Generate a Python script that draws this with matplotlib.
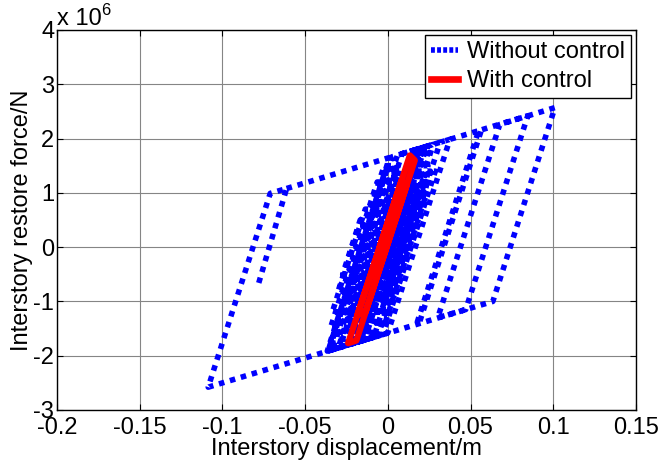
import matplotlib.pyplot as plt
from matplotlib.lines import Line2D

plt.rcParams['font.family'] = ['Liberation Sans', 'DejaVu Sans']

# ---- hysteresis path without control: displacement (m), force (x 1e6 N) ----
disp_without = [-0.0612, 0.001, -0.0366, -0.0350, 0.0025, 0.0235, -0.0118, -0.0348,
                -0.0064, 0.0106, -0.0188, -0.0088, 0.0217, 0.0057, -0.0259, -0.0299,
                0.0058, 0.0191, -0.0126, -0.0336, -0.0136, 0.0024, -0.0240, -0.0356,
                -0.0008, 0.0257, -0.0062, -0.0162, 0.0213, 0.0258, -0.0035, -0.0275,
                -0.0022, 0.0058, -0.0247, -0.0017, 0.0235, 0.0195, -0.0085, -0.0228,
                0.0147, 0.0224, -0.0023, -0.0273, -0.0167, -0.0087, -0.0245, -0.0005,
                0.0247, 0.0287, -0.0029, -0.0206, 0.0169,
                0.0202, -0.0127, -0.0197, 0.0056, 0.0136, -0.0162, -0.0334, -0.0019,
                0.0051, -0.0160, -0.0220, 0.0017, 0.0097, -0.0187, -0.0107, 0.0230,
                0.0274, -0.0030, 0.0010, 0.0231, 0.0171, -0.0123, -0.0289, 0.0086,
                0.0186, -0.0079, -0.0159, -0.0001, -0.0071, -0.0239, -0.0299, -0.0173,
                -0.0063, -0.0300, -0.0361, -0.0007, 0.0078, -0.0238, -0.0158, 0.0163,
                0.0243, -0.0041, -0.0141, 0.0175,
                0.0375, 0.0000, -0.0060, 0.0316, 0.0566, 0.0190, 0.0175, 0.0549,
                0.0846, 0.0471, 0.0302, 0.0677, 0.1010, 0.0635, -0.1086, -0.0711,
                -0.0612, -0.0790]
force_without = [1.08, 1.65, -1.916, -1.90, 1.663, 1.857, -1.50, -1.50,
                 1.20, 1.20, -1.60, -1.60, 1.30, 1.30, -1.70, -1.70,
                 1.694, 1.816, -1.20, -1.20, 0.70, 0.70, -1.80, -1.907,
                 1.40, 1.40, -1.637, -1.729, 1.836, 1.877, -0.90, -0.90,
                 1.50, 1.50, -1.40, -1.40, 1.00, 1.00, -1.658, -1.790,
                 1.775, 1.846, -0.50, -0.50, 0.50, 0.50, -1.00, -1.00,
                 1.40, 1.40, -1.607, -1.770, 1.795,
                 1.826, -1.30, -1.30, 1.10, 1.10, -1.729, -1.887, 1.10,
                 1.10, -0.90, -0.90, 1.35, 1.35, -1.35, -1.35, 1.852,
                 1.892, -1.00, -1.00, 1.10, 1.10, -1.693, -1.846, 1.719,
                 1.811, -0.70, -0.70, 0.80, 0.80, -0.80, -0.80, 0.40,
                 0.40, -1.856, -1.912, 1.45, 1.45, -1.55, -1.55, 1.50,
                 1.50, -1.20, -1.20, 1.801,
                 1.985, -1.58, -1.64, 1.931, 2.16, -1.40, -1.41, 2.145,
                 2.42, -1.15, -1.30, 2.26, 2.57, -1.00, -2.58, 0.99,
                 1.08, -0.76]

# ---- hysteresis path with control ----
disp_with = [-0.0049, 0.0133, 0.0163, -0.019, -0.024, 0.0082, 0.0113, -0.0135,
             -0.0184, 0.0005]
force_with = [0.00, 1.69, 1.60, -1.72, -1.77, 1.22, 1.13, -1.20, -1.25, 0.50]

x_ticks = [-0.2, -0.15, -0.1, -0.05, 0, 0.05, 0.1, 0.15]
x_tick_labels = ['-0.2', '-0.15', '-0.1', '-0.05', '0', '0.05', '0.1', '0.15']
y_ticks = [-3, -2, -1, 0, 1, 2, 3, 4]
y_tick_labels = ['-3', '-2', '-1', '0', '1', '2', '3', '4']

fs = 17
blue_dots = (0, (1.0, 1.05))

fig = plt.figure(figsize=(6.59, 4.62), dpi=100)
ax = fig.add_axes([0.0865, 0.1126, 0.8785, 0.8225])

ax.plot(disp_without, force_without, color='blue', lw=4, linestyle=blue_dots,
        dash_capstyle='butt')
ax.plot(disp_with, force_with, color='red', lw=4.5, solid_capstyle='round',
        solid_joinstyle='round')

ax.set_xlim(-0.2, 0.15)
ax.set_ylim(-3, 4)
ax.set_xticks(x_ticks)
ax.set_xticklabels(x_tick_labels)
ax.set_yticks(y_ticks)
ax.set_yticklabels(y_tick_labels)
ax.tick_params(direction='in', top=True, right=True, length=4, width=0.8,
               labelsize=fs)
ax.tick_params(axis='x', pad=5)
ax.tick_params(axis='y', pad=2)
ax.grid(True, color='#858585', lw=0.8)
ax.set_axisbelow(True)
for s in ax.spines.values():
    s.set_linewidth(1.0)

ax.set_xlabel('Interstory displacement/m', fontsize=fs, labelpad=-0.5)
ax.set_ylabel('Interstory restore force/N', fontsize=fs, labelpad=0)

# exponent above the y axis
fig.text(0.0865, 0.946, 'x 10', fontsize=fs, ha='left', va='baseline')
fig.text(0.154, 0.967, '6', fontsize=12, ha='left', va='baseline')

handles = [Line2D([], [], color='blue', lw=4, linestyle=(0, (0.7, 0.4))),
           Line2D([], [], color='red', lw=4.8)]
leg = ax.legend(handles, ['Without control', 'With control'], loc='upper right',
                bbox_to_anchor=(0.992, 0.987), borderaxespad=0, fontsize=fs,
                handlelength=1.15, handletextpad=0.38, borderpad=0.25,
                labelspacing=0.3, fancybox=False, framealpha=1)
leg.get_frame().set_edgecolor('black')
leg.get_frame().set_linewidth(1.0)

fig.savefig('out.png', dpi=100)
